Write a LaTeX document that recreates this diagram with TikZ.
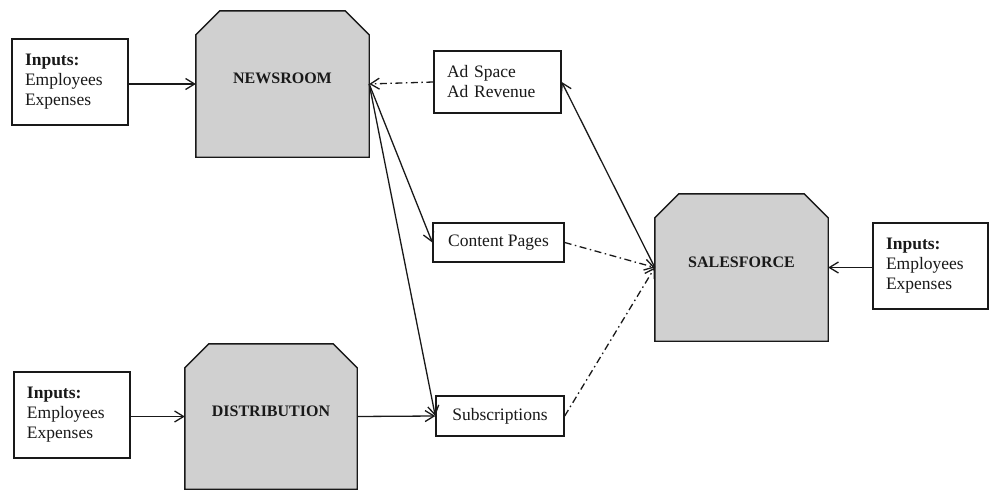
\documentclass[tikz,border=0pt]{standalone}
\usepackage{fontspec}
\setmainfont{Liberation Serif}
\usetikzlibrary{arrows.meta,backgrounds,calc}

\definecolor{unitgray}{RGB}{208,208,208}
\definecolor{inkline}{RGB}{25,25,25}

\tikzset{
  x=1pt, y=-1pt,
  every node/.style={font=\fontsize{17.5}{20}\selectfont, text=inkline},
  inbox/.style={draw=inkline, line width=1.4pt, fill=white, minimum width=116pt,
    minimum height=86pt, inner xsep=13pt, inner ysep=0pt, text width=90pt, align=left},
  itembox/.style={draw=inkline, line width=1.4pt, fill=white, inner sep=0pt, align=left},
  unitbox/.style={draw=none, minimum width=173pt, minimum height=146pt, inner sep=0pt,
    font=\fontsize{16}{19}\selectfont\bfseries, text height=11pt, text depth=12pt},
  chamfer/.style={draw=inkline, line width=1.4pt, fill=unitgray},
  link/.style={draw=inkline, line width=1.3pt, -{Straight Barb[length=9pt,width=11pt]}},
  dashdotline/.style={dash pattern=on 7pt off 3.5pt on 1.5pt off 3.5pt}
}

% octagon-topped unit shape drawn behind a named node
\newcommand{\unitshape}[1]{%
  \draw[chamfer] ($(#1.north west)+(0,24)$) -- ($(#1.north west)+(24,0)$)
    -- ($(#1.north east)+(-24,0)$) -- ($(#1.north east)+(0,24)$)
    -- (#1.south east) -- (#1.south west) -- cycle;}

\begin{document}
\begin{tikzpicture}
\useasboundingbox (0,0) rectangle (989,490);

% production units
\node[unitbox] (news) at (282.5,84) {NEWSROOM};
\node[unitbox, minimum width=172pt, minimum height=145pt] (dist) at (271,416.5) {DISTRIBUTION};
\node[unitbox, minimum height=147pt] (sales) at (741.5,267.5) {SALESFORCE};

\begin{scope}[on background layer]
  \unitshape{news}
  \unitshape{dist}
  \unitshape{sales}
\end{scope}

% input boxes
\node[inbox] (in1) at (70,82) {\textbf{Inputs:}\\Employees\\Expenses};
\node[inbox] (in2) at (72,415) {\textbf{Inputs:}\\Employees\\Expenses};
\node[inbox, minimum width=115pt, text width=89pt] (in3) at (930.5,266) {\textbf{Inputs:}\\Employees\\Expenses};

% products
\node[itembox, minimum width=127pt, minimum height=62pt, inner xsep=13pt, text width=101pt]
  (ad) at (497.5,82) {Ad Space\\Ad Revenue};
\node[itembox, minimum width=131pt, minimum height=39pt, align=center] (content) at (498.5,242.5) {Content Pages};
\node[itembox, minimum width=128pt, minimum height=40pt, align=center] (subs) at (500,416) {Subscriptions};

% flows
\draw[link] (news.west -| in1.east) -- (news.west);
\draw[link] (dist.west -| in2.east) -- (dist.west);
\draw[link] (sales.east -| in3.west) -- (sales.east);

\draw[link, dashdotline] (ad.west) -- (news.east);
\draw[link] (news.east) -- (content.west);
\draw[link] (news.east) -- (subs.west);
\draw[link] (dist.east) -- (subs.west);

\draw[link] (sales.west) -- (ad.east);
\draw[link, dashdotline] (content.east) -- (sales.west);
\draw[link, dashdotline] (subs.east) -- (sales.west);
\end{tikzpicture}
\end{document}
